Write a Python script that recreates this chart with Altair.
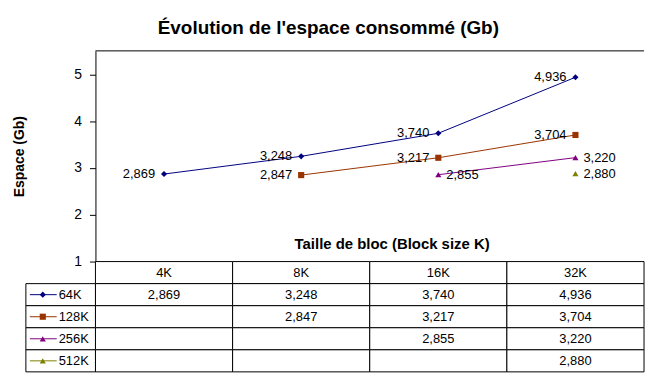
import altair as alt
import pandas as pd

categories = ["4K", "8K", "16K", "32K"]
series = ["64K", "128K", "256K", "512K"]
values_64k = [2.869, 3.248, 3.740, 4.936]
values_128k = [None, 2.847, 3.217, 3.704]
values_256k = [None, None, 2.855, 3.220]
values_512k = [None, None, None, 2.880]
colors = ["#000080", "#993300", "#800080", "#808000"]
shapes = ["diamond", "square", "triangle-up", "triangle-up"]
label_side = ["left", "left", "right", "right"]
y_ticks = [1, 2, 3, 4, 5]
y_domain = [1, 5.5]

title_text = "Évolution de l'espace consommé (Gb)"
x_title = "Taille de bloc (Block size K)"
y_title = "Espace (Gb)"
header_row = "hdr"

W = 552
H1 = 212
H2 = 111
FONT = "Liberation Sans"


def fmt(v):
    return f"{v:.3f}".replace(".", ",")


all_values = [values_64k, values_128k, values_256k, values_512k]
recs = []
for s, vals, side in zip(series, all_values, label_side):
    for c, v in zip(categories, vals):
        if v is not None:
            recs.append({"series": s, "cat": c, "value": v, "label": fmt(v), "side": side})
df = pd.DataFrame(recs)

table_rows = [header_row] + series
cells = []
for r in table_rows:
    for i, c in enumerate(categories):
        if r == header_row:
            txt = c
        else:
            v = all_values[series.index(r)][i]
            txt = fmt(v) if v is not None else ""
        cells.append({"row": r, "cat": c, "text": txt})
cells_df = pd.DataFrame(cells)
legend_df = pd.DataFrame({"row": series})

xscale = alt.Scale(type="band", domain=categories, paddingInner=0, paddingOuter=0)
color_enc = alt.Color("series:N", scale=alt.Scale(domain=series, range=colors), legend=None)
shape_enc = alt.Shape("series:N", scale=alt.Scale(domain=series, range=shapes), legend=None)

x_top = alt.X(
    "cat:N",
    scale=xscale,
    axis=alt.Axis(
        title=x_title, labels=False, ticks=False, domain=False,
        titleFontSize=15, titleFontWeight="bold", titleX=298, titleY=-10,
        titleAlign="center", titleBaseline="bottom",
    ),
)
y_top = alt.Y(
    "value:Q",
    scale=alt.Scale(domain=y_domain, nice=False, zero=False),
    axis=alt.Axis(
        values=y_ticks, format="d", title=y_title, grid=False,
        tickSize=6, labelPadding=8, titleFontSize=14, titleFontWeight="bold",
        titlePadding=48, labelFontSize=14,
    ),
)

base = alt.Chart(df)
lines = base.mark_line(strokeWidth=1).encode(x=x_top, y=y_top, color=color_enc)
points = base.mark_point(filled=True, size=38, opacity=1).encode(
    x=x_top, y=y_top, color=color_enc, shape=shape_enc
)
lab_l = base.transform_filter(alt.datum.side == "left").mark_text(
    align="right", dx=-9, fontSize=13, color="black"
).encode(x=x_top, y=y_top, text="label:N")
lab_r = base.transform_filter(alt.datum.side == "right").mark_text(
    align="left", dx=8, fontSize=13, color="black"
).encode(x=x_top, y=y_top, text="label:N")
border = alt.Chart(pd.DataFrame({"a": [0]})).mark_rule(color="black", strokeWidth=1).encode(
    x=alt.value(0), x2=alt.value(W), y=alt.value(0)
)
top = alt.layer(lines, points, lab_l, lab_r, border).properties(width=W, height=H1)

yrow = alt.Y("row:N", scale=alt.Scale(type="band", domain=table_rows, paddingInner=0, paddingOuter=0), axis=None)
x_bot = alt.X("cat:N", scale=xscale, axis=None)
cell_rects = alt.Chart(cells_df).mark_rect(fill="white", stroke="black", strokeWidth=1).encode(x=x_bot, y=yrow)
cell_text = alt.Chart(cells_df).mark_text(fontSize=13, color="black").encode(x=x_bot, y=yrow, text="text:N")

leg_color = alt.Color("row:N", scale=alt.Scale(domain=series, range=colors), legend=None)
leg_shape = alt.Shape("row:N", scale=alt.Scale(domain=series, range=shapes), legend=None)
leg_rects = alt.Chart(legend_df).mark_rect(fill="white", stroke="black", strokeWidth=1).encode(
    x=alt.value(-70), x2=alt.value(0), y=yrow
)
leg_lines = alt.Chart(legend_df).mark_rule(strokeWidth=1).encode(
    x=alt.value(-66), x2=alt.value(-39), y=yrow, color=leg_color
)
leg_points = alt.Chart(legend_df).mark_point(filled=True, size=38, opacity=1).encode(
    x=alt.value(-53), y=yrow, color=leg_color, shape=leg_shape
)
leg_text = alt.Chart(legend_df).mark_text(align="left", fontSize=13, color="black").encode(
    x=alt.value(-37), y=yrow, text="row:N"
)
bottom = alt.layer(cell_rects, cell_text, leg_rects, leg_lines, leg_points, leg_text).properties(
    width=W, height=H2
)

chart = (
    alt.vconcat(top, bottom, spacing=0)
    .resolve_scale(x="shared", y="independent", color="independent", shape="independent")
    .properties(
        title=alt.TitleParams(
            title_text, anchor="middle", frame="bounds", fontSize=19,
            fontWeight="bold", offset=12, color="black",
        ),
        bounds="flush",
        padding={"left": 4, "top": 10, "right": 2, "bottom": 2},
    )
    .configure(font=FONT)
    .configure_view(stroke=None)
    .configure_axis(
        labelColor="black", tickColor="black", domainColor="black", titleColor="black",
        labelFont=FONT, titleFont=FONT,
    )
    .configure_title(font=FONT)
)

chart.save("out.html", embed_options={"renderer": "svg", "actions": False})
